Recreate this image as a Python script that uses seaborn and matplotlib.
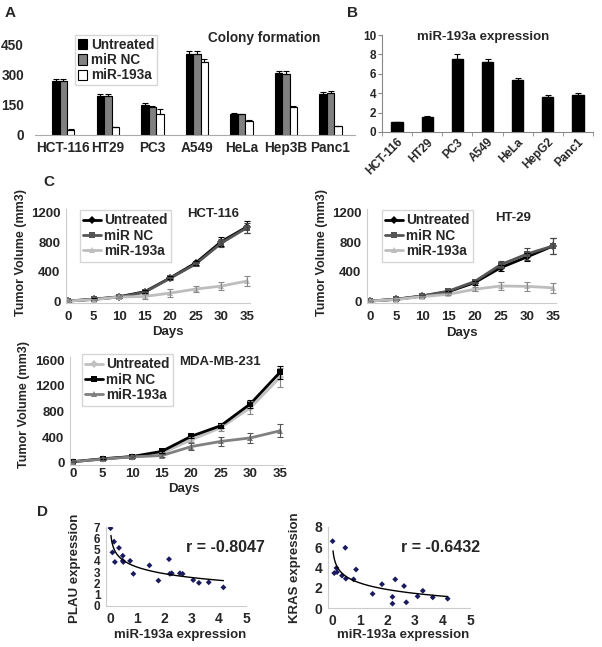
import matplotlib
matplotlib.use("Agg")
import matplotlib.pyplot as plt
import numpy as np
import pandas as pd
import seaborn as sns

W, H = 602, 647

# A: colony formation
A_CELLS = ["HCT-116", "HT29", "PC3", "A549", "HeLa", "Hep3B", "Panc1"]
A_GROUPS = ["Untreated", "miR NC", "miR-193a"]
A_UNTREATED = [265, 195, 148, 402, 105, 305, 203]
A_NC = [265, 194, 137, 402, 102, 300, 208]
A_193A = [25, 38, 103, 362, 68, 137, 46]
A_ERR_UNT = [12, 8, 8, 15, 4, 12, 10]
A_ERR_NC = [12, 8, 8, 15, 4, 15, 8]
A_ERR_193A = [3, 3, 27, 15, 5, 8, 0]

# B: miR-193a expression
B_CELLS = ["HCT-116", "HT29", "PC3", "A549", "HeLa", "HepG2", "Panc1"]
B_VALUES = [1.0, 1.55, 7.55, 7.2, 5.35, 3.65, 3.85]
B_ERR = [0.08, 0.08, 0.5, 0.35, 0.25, 0.2, 0.2]

# C: tumour growth
DAYS = [0, 5, 10, 15, 20, 25, 30, 35]
C_GROUPS = ["Untreated", "miR NC", "miR-193a"]
HCT_UNT = [0, 25, 58, 127, 315, 520, 810, 1010]
HCT_NC = [0, 22, 55, 120, 312, 505, 790, 1000]
HCT_193A = [0, 20, 55, 62, 109, 163, 204, 272]
HCT_ERR_UNT = [10, 10, 15, 20, 20, 25, 60, 80]
HCT_ERR_NC = [10, 10, 15, 20, 20, 25, 50, 70]
HCT_ERR_193A = [10, 10, 15, 30, 50, 45, 50, 70]

HT_UNT = [0, 23, 68, 127, 250, 455, 600, 750]
HT_NC = [0, 25, 70, 135, 265, 495, 640, 750]
HT_193A = [0, 20, 60, 92, 160, 205, 200, 180]
HT_ERR_UNT = [5, 8, 10, 15, 25, 40, 60, 110]
HT_ERR_NC = [5, 8, 10, 15, 25, 50, 80, 110]
HT_ERR_193A = [5, 8, 10, 15, 30, 60, 60, 70]

MDA_UNT = [20, 60, 100, 150, 360, 550, 860, 1330]
MDA_NC = [20, 65, 100, 180, 415, 580, 920, 1410]
MDA_193A = [20, 60, 95, 115, 255, 335, 390, 500]
MDA_ERR_UNT = [10, 10, 15, 20, 40, 50, 100, 150]
MDA_ERR_NC = [10, 10, 15, 20, 30, 40, 60, 100]
MDA_ERR_193A = [10, 10, 15, 20, 50, 70, 80, 100]

# D: correlations
PLAU_MIR = [0.02, 0.09, 0.15, 0.18, 0.33, 0.47, 0.47, 0.49, 0.74, 0.86, 1.45,
            1.78, 2.17, 2.2, 2.27, 2.57, 2.67, 3.06, 3.27, 3.63, 4.17]
PLAU_EXPR = [6.9, 4.75, 5.7, 3.9, 5.15, 4.45, 4.0, 3.9, 4.0, 2.85, 3.6,
             2.25, 4.15, 2.85, 2.9, 2.9, 2.85, 2.3, 2.05, 2.1, 1.65]
KRAS_MIR = [0.02, 0.08, 0.16, 0.18, 0.36, 0.48, 0.5, 0.78, 0.87, 1.47, 1.81,
            2.19, 2.19, 2.29, 2.61, 2.69, 3.1, 3.29, 3.65, 4.19]
KRAS_EXPR = [6.6, 3.45, 3.95, 3.55, 3.2, 5.95, 2.9, 2.83, 3.8, 1.4, 2.35,
             1.1, 0.43, 2.83, 2.17, 0.56, 1.15, 1.7, 1.05, 0.92]
PLAU_R = "r = -0.8047"
KRAS_R = "r = -0.6432"


def box(x0, y0, x1, y1):
    return [x0 / W, 1 - y1 / H, (x1 - x0) / W, (y1 - y0) / H]


def pt(x, y):
    return (x / W, 1 - y / H)


sns.set_style("white")
plt.rcParams["font.family"] = ["Liberation Sans", "DejaVu Sans"]
plt.rcParams["font.weight"] = "bold"
plt.rcParams["axes.labelweight"] = "bold"

fig = plt.figure(figsize=(W / 100, H / 100), dpi=100)


def label(x, y, s, size=9.5, **kw):
    fig.text(*pt(x, y), s, ha="center", va="center", fontsize=size, fontweight="bold", **kw)


# ---------- A ----------
axA = fig.add_axes(box(35, 44, 355, 135))
dfA = pd.DataFrame({
    "cell": A_CELLS * 3,
    "group": np.repeat(A_GROUPS, len(A_CELLS)),
    "value": A_UNTREATED + A_NC + A_193A,
})
sns.barplot(data=dfA, x="cell", y="value", hue="group", hue_order=A_GROUPS,
            palette=["#000000", "#808080", "#ffffff"], width=0.5,
            edgecolor="black", linewidth=0.8, errorbar=None, ax=axA)
for cont, err in zip(axA.containers, [A_ERR_UNT, A_ERR_NC, A_ERR_193A]):
    xs = [b.get_x() + b.get_width() / 2 for b in cont]
    ys = [b.get_height() for b in cont]
    axA.errorbar(xs, ys, yerr=[np.zeros(len(err)), err], fmt="none",
                 ecolor="black", elinewidth=0.8, capsize=2.2, capthick=0.8)
axA.set_xlim(-0.636, 6.55)
axA.set_ylim(0, 450)
axA.set_yticks([0, 150, 300, 450])
axA.set_xlabel("")
axA.set_ylabel("")
axA.tick_params(axis="both", length=0, labelsize=9.8)
axA.tick_params(axis="y", pad=8)
axA.tick_params(axis="x", pad=4)
for s in ["top", "right", "left"]:
    axA.spines[s].set_visible(False)
axA.spines["bottom"].set_color("#aaaaaa")
legA = axA.get_legend()
hA = legA.legend_handles
labA = [t.get_text() for t in legA.get_texts()]
for h in hA:
    h.set_edgecolor("black")
    h.set_linewidth(0.8)
axA.legend(hA, labA, loc="upper left", bbox_to_anchor=pt(75, 35),
           bbox_transform=fig.transFigure, fontsize=9.8, frameon=True, fancybox=False,
           edgecolor="#cccccc", handlelength=0.7, handleheight=0.8, handletextpad=0.3,
           borderpad=0.2, labelspacing=0.1, borderaxespad=0)
label(264, 38, "Colony formation", size=9.8)

# ---------- B ----------
axB = fig.add_axes(box(382, 35, 593, 132))
sns.barplot(x=B_CELLS, y=B_VALUES, color="black", width=0.37, edgecolor="black",
            errorbar=None, ax=axB)
bx = [b.get_x() + b.get_width() / 2 for b in axB.patches]
axB.errorbar(bx, B_VALUES, yerr=[np.zeros(len(B_ERR)), B_ERR], fmt="none",
             ecolor="black", elinewidth=0.8, capsize=2.5, capthick=0.8)
axB.set_xlim(-0.5, 6.5)
axB.set_ylim(0, 10)
axB.set_yticks(range(0, 11, 2))
axB.set_xticks(np.arange(-0.5, 7, 1), minor=True)
axB.tick_params(axis="x", which="major", length=0, labelsize=8.5, pad=3)
axB.tick_params(axis="x", which="minor", length=3, color="#888888", bottom=True)
axB.tick_params(axis="y", length=3, color="#888888", labelsize=8.5, pad=1, left=True)
plt.setp(axB.get_xticklabels(), rotation=45, ha="right", rotation_mode="anchor")
for s in ["top", "right"]:
    axB.spines[s].set_visible(False)
for s in ["left", "bottom"]:
    axB.spines[s].set_color("#888888")
label(483, 37, "miR-193a expression", size=9.5)


# ---------- C ----------
def tumor_panel(ax, values, errors, colors, err_colors, markers, xlim, ylim, yticks, xpad):
    df = pd.DataFrame({
        "day": DAYS * len(C_GROUPS),
        "volume": np.concatenate(values),
        "group": np.repeat(C_GROUPS, len(DAYS)),
    })
    sns.lineplot(data=df, x="day", y="volume", hue="group", style="group",
                 hue_order=C_GROUPS, style_order=C_GROUPS,
                 palette=dict(zip(C_GROUPS, colors)),
                 markers=dict(zip(C_GROUPS, markers)), dashes=False,
                 linewidth=2, markersize=4.5, markeredgewidth=0, ax=ax)
    for vals, err, ec in zip(values, errors, err_colors):
        ax.errorbar(DAYS, vals, yerr=err, fmt="none", ecolor=ec,
                    elinewidth=0.8, capsize=2, capthick=0.8)
    ax.set_xlim(*xlim)
    ax.set_ylim(*ylim)
    ax.set_xticks(DAYS)
    ax.set_yticks(yticks)
    ax.set_xlabel("")
    ax.set_ylabel("")
    ax.tick_params(axis="both", length=0, labelsize=9.5)
    ax.tick_params(axis="x", pad=xpad)
    ax.tick_params(axis="y", pad=4)
    for s in ["top", "right"]:
        ax.spines[s].set_visible(False)
    for s in ["left", "bottom"]:
        ax.spines[s].set_color("#cccccc")
    leg = ax.get_legend()
    hh = leg.legend_handles
    ll = [t.get_text() for t in leg.get_texts()]
    return hh, ll


def c_legend(ax, hh, ll, x, y):
    ax.legend(hh, ll, loc="upper left", bbox_to_anchor=pt(x, y),
              bbox_transform=fig.transFigure, fontsize=9.8, frameon=True, fancybox=False,
              edgecolor="#cccccc", handlelength=1.3, handletextpad=0.2,
              borderpad=0.25, labelspacing=0.1, borderaxespad=0)


axC1 = fig.add_axes(box(66, 209.3, 250, 302.5))
h, l = tumor_panel(axC1, [HCT_UNT, HCT_NC, HCT_193A],
                   [HCT_ERR_UNT, HCT_ERR_NC, HCT_ERR_193A],
                   ["#000000", "#555555", "#bdbdbd"], ["#000000", "#444444", "#888888"],
                   ["D", "s", "^"], (-0.4, 35.6), (-20, 1250), [0, 400, 800, 1200], 6)
c_legend(axC1, h, l, 80, 210)
label(213, 214, "HCT-116")
label(168, 332, "Days")
label(21, 253, "Tumor Volume (mm3)", size=9, rotation=90)

axC2 = fig.add_axes(box(367, 209.3, 556, 302.5))
h, l = tumor_panel(axC2, [HT_UNT, HT_NC, HT_193A],
                   [HT_ERR_UNT, HT_ERR_NC, HT_ERR_193A],
                   ["#000000", "#555555", "#bdbdbd"], ["#000000", "#444444", "#888888"],
                   ["D", "s", "^"], (-0.57, 35.57), (-20, 1250), [0, 400, 800, 1200], 6)
c_legend(axC2, h, l, 382, 210)
label(513, 218, "HT-29")
label(462, 333, "Days")
label(322, 253, "Tumor Volume (mm3)", size=9, rotation=90)

axC3 = fig.add_axes(box(70, 356.8, 283, 464.9))
h, l = tumor_panel(axC3, [MDA_UNT, MDA_NC, MDA_193A],
                   [MDA_ERR_UNT, MDA_ERR_NC, MDA_ERR_193A],
                   ["#c0c0c0", "#000000", "#808080"], ["#888888", "#000000", "#555555"],
                   ["D", "s", "^"], (-0.5, 35.5), (-30, 1650), [0, 400, 800, 1200, 1600], 2)
c_legend(axC3, h, l, 82, 354)
label(220, 362, "MDA-MB-231")
label(184, 489, "Days")
label(24, 405, "Tumor Volume (mm3)", size=9, rotation=90)


# ---------- D ----------
def corr_panel(ax, x, y, ylim, yticks, ysize):
    sns.scatterplot(x=x, y=y, marker="D", s=9, color="#1a1a5e", edgecolor="none", ax=ax)
    b, a = np.polyfit(np.log(x), y, 1)
    xf = np.linspace(0.035, max(x), 200)
    ax.plot(xf, a + b * np.log(xf), color="black", linewidth=1)
    ax.set_xlim(-0.147, 5.0)
    ax.set_ylim(*ylim)
    ax.set_xticks(range(0, 6))
    ax.set_yticks(yticks)
    ax.tick_params(axis="both", length=0, labelsize=10)
    ax.tick_params(axis="x", pad=4)
    ax.tick_params(axis="y", pad=4, labelsize=ysize)
    for s in ["top", "right"]:
        ax.spines[s].set_visible(False)
    for s in ["left", "bottom"]:
        ax.spines[s].set_color("#cccccc")


axD1 = fig.add_axes(box(106, 527, 246, 606))
corr_panel(axD1, np.array(PLAU_MIR), np.array(PLAU_EXPR), (0, 7), range(0, 8), 8.5)
label(225, 548, PLAU_R, size=11.5)
label(180, 635, "miR-193a expression", size=9.5)
label(75, 568, "PLAU expression", size=9.5, rotation=90)

axD2 = fig.add_axes(box(328, 527, 470, 608))
corr_panel(axD2, np.array(KRAS_MIR), np.array(KRAS_EXPR), (0, 8), range(0, 9, 2), 10)
label(441, 548, KRAS_R, size=11.5)
label(403, 635, "miR-193a expression", size=9.5)
label(295, 568, "KRAS expression", size=9.5, rotation=90)

# panel letters
label(10, 13, "A", size=11)
label(352, 13, "B", size=11)
label(49, 182, "C", size=11)
label(43, 512, "D", size=11)

fig.savefig("out.png", dpi=100, facecolor="white")
plt.close(fig)
